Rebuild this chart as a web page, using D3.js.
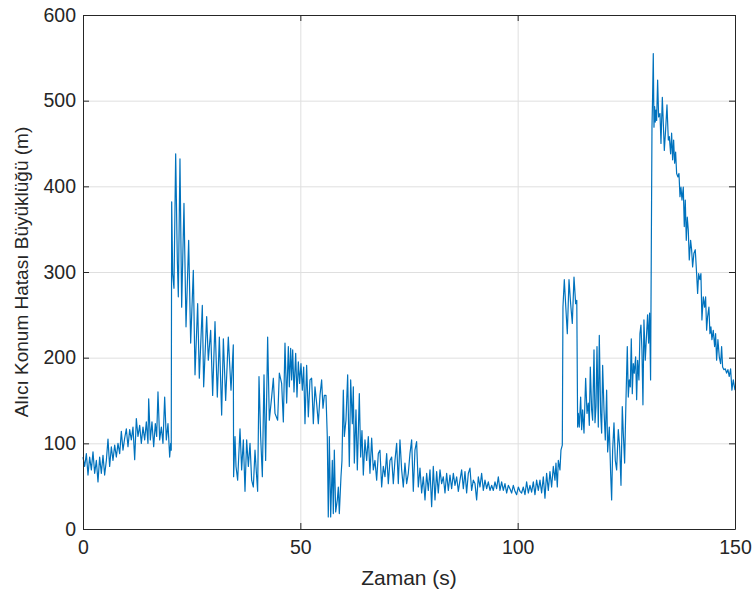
<!DOCTYPE html>
<html>
<head>
<meta charset="utf-8">
<script src="https://cdn.jsdelivr.net/npm/d3@7"></script>
<style>
  body { margin: 0; background: #fff; }
  svg { display: block; }
  .tick text { font-family: "Liberation Sans", Arial, sans-serif; font-size: 19.5px; fill: #262626; }
  .axis-title { font-family: "Liberation Sans", Arial, sans-serif; fill: #262626; }
</style>
</head>
<body>
<div id="chart"></div>
<script>
// time (s) and receiver position error magnitude (m)
const times = [
  0.00, 0.38, 0.77, 1.15, 1.53, 1.92, 2.30, 2.68, 3.07, 3.45, 3.83, 4.22, 4.60, 4.98, 5.37, 5.75, 6.13, 6.52, 6.90, 7.29,
  7.67, 8.05, 8.44, 8.82, 9.20, 9.59, 9.97, 10.35, 10.74, 11.12, 11.50, 11.89, 12.27, 12.65, 13.04, 13.42, 13.80, 14.19, 14.57, 14.95,
  15.11, 15.49, 15.87, 16.26, 16.64, 16.95, 17.25, 17.64, 18.02, 18.40, 18.79, 19.17, 19.55, 19.94, 20.17, 20.30,
  20.40, 20.63, 20.93, 21.32, 21.70, 21.93, 22.31, 22.70, 23.23, 23.70, 24.31, 24.77, 25.38, 25.77, 26.38, 26.76, 27.45, 27.76,
  28.45, 28.83, 29.37, 29.83, 30.37, 30.90, 31.37, 31.90, 32.29, 32.82, 33.43, 34.05, 34.58,
  34.65, 34.97, 35.20, 35.58, 36.12, 36.50, 36.89, 37.27, 37.65, 38.04, 38.42, 38.80, 39.19, 39.57, 39.95, 40.18, 40.49, 40.87,
  41.26, 41.64, 42.02, 42.48, 42.87, 43.40, 43.79, 44.17, 44.78, 45.17, 45.70, 46.09, 46.47, 46.85, 47.24, 47.47, 47.77, 48.00,
  48.24, 48.54, 48.93, 49.23, 49.54, 49.84, 50.15, 50.46, 50.77, 51.07, 51.45, 51.84, 52.22, 52.60, 52.99, 53.37, 53.75, 54.14,
  54.52, 54.90, 55.21, 55.52, 55.90, 56.20, 56.43,
  56.67, 56.98, 57.36, 57.59, 57.82, 58.13, 58.51, 58.74, 58.97, 59.35, 59.58, 59.89, 60.12, 60.50, 60.89, 61.27, 61.58, 61.96,
  62.19, 62.42, 62.80, 63.11, 63.57, 63.88, 64.18, 64.49, 64.87, 65.26, 65.64, 66.02, 66.41, 66.79, 67.17, 67.56, 67.94, 68.32,
  68.71, 69.09, 69.47, 69.86, 70.24, 70.62, 71.01, 71.39, 71.77, 72.16, 72.54, 72.92, 73.31, 73.69, 74.07, 74.46, 74.84, 75.22,
  75.61, 75.99, 76.37, 76.75, 77.14,
  77.53, 77.91, 78.29, 78.68, 79.06, 79.44, 79.83, 80.21, 80.59, 80.98, 81.36, 81.74, 82.13, 82.51, 82.89, 83.28, 83.66, 84.05,
  84.43, 84.81, 85.20, 85.58, 85.96, 86.35, 86.73, 87.11, 87.50, 87.88, 88.26, 88.65, 89.03, 89.41, 89.80, 90.18, 90.56, 90.95,
  91.33, 91.71, 92.10, 92.48, 92.86, 93.25, 93.63, 94.01, 94.40, 94.78, 95.16, 95.55, 95.93, 96.31, 96.70, 97.08, 97.46, 97.85,
  98.23, 98.61, 99.00, 99.38, 99.76, 100.15, 100.53,
  100.91, 101.30, 101.68, 102.06, 102.45, 102.83, 103.21, 103.60, 103.98, 104.36, 104.75, 105.13, 105.51, 105.90, 106.28, 106.66,
  107.05, 107.43, 107.81, 108.20, 108.58, 108.81, 109.12, 109.35, 109.73, 109.96, 110.27, 110.42, 110.73, 111.11, 111.42, 111.81,
  112.19, 112.57, 112.96, 113.34, 113.60, 113.80,
  113.95, 114.18, 114.49, 114.72, 114.95, 115.26, 115.64, 115.95, 116.25, 116.48, 116.71, 117.02, 117.25, 117.56, 117.79, 118.02,
  118.25, 118.55, 118.78, 119.09, 119.32, 119.55, 119.86, 120.16, 120.47, 120.70, 121.08, 121.39, 121.62, 121.85, 122.16, 122.46,
  122.77, 123.15, 123.46, 123.77, 124.07, 124.30, 124.61, 124.92, 125.22, 125.45, 125.68, 125.91, 126.14, 126.37, 126.60, 126.83,
  127.14, 127.37, 127.60, 127.90, 128.13, 128.36, 128.59, 128.82, 129.05, 129.36, 129.59, 129.89, 130.12, 130.35, 130.58,
  130.90, 131.05, 131.20, 131.36, 131.51, 131.66, 131.82, 131.97, 132.20, 132.43, 132.74, 132.97, 133.28, 133.51, 133.74, 134.04,
  134.35, 134.66, 134.89, 135.19, 135.42, 135.65, 135.88, 136.11, 136.34, 136.57, 136.88, 137.11, 137.34, 137.57, 137.80, 138.10,
  138.33, 138.56, 138.79, 139.02, 139.25, 139.48, 139.79, 140.02, 140.25, 140.55, 140.86, 141.17, 141.40, 141.63, 141.93, 142.16,
  142.39, 142.70, 143.01, 143.24, 143.47, 143.70, 144.00, 144.23, 144.46, 144.69, 145.00, 145.31, 145.54, 145.77, 146.07, 146.38,
  146.69, 146.92, 147.15, 147.45, 147.76, 148.07, 148.37, 148.68, 148.99, 149.29, 149.60, 150.00
];

const errors = [
  84, 73, 88, 63, 84, 69, 90, 65, 80, 55, 84, 65, 86, 63, 80, 105, 73, 96, 80, 98,
  84, 100, 88, 114, 92, 106, 117, 96, 116, 104, 119, 81, 129, 108, 121, 100, 119, 104, 125, 100,
  152, 104, 125, 96, 123, 108, 160, 104, 119, 100, 154, 104, 123, 84, 100, 92,
  382, 298, 281, 438, 314, 271, 432, 259, 380, 236, 337, 217, 302, 180, 263, 176, 261, 166,
  248, 197, 232, 156, 242, 154, 224, 133, 222, 150, 224, 162, 215,
  61, 108, 73, 57, 117, 69, 104, 44, 104, 73, 100, 57, 49, 92, 61, 44, 178, 108,
  61, 180, 80, 224, 127, 154, 176, 135, 127, 182, 170, 125, 217, 147, 213, 166, 211, 174,
  209, 160, 205, 154, 195, 170, 193, 162, 189, 123, 191, 131, 174, 176, 123, 166, 147, 123,
  156, 174, 141, 156, 156, 108, 14,
  108, 14, 80, 18, 92, 20, 34, 49, 18, 61, 80, 162, 108, 127, 180, 73, 174, 123,
  166, 77, 139, 69, 158, 84, 115, 63, 104, 80, 108, 65, 106, 69, 80, 57, 88, 92,
  49, 73, 61, 88, 53, 80, 84, 53, 80, 100, 53, 104, 69, 49, 77, 53, 65, 88,
  104, 44, 92, 102, 49,
  71, 42, 61, 34, 65, 45, 69, 26, 73, 34, 67, 42, 69, 53, 61, 42, 65, 45,
  63, 47, 65, 51, 61, 44, 57, 69, 47, 67, 42, 65, 71, 45, 57, 53, 34, 61,
  49, 65, 45, 57, 47, 55, 45, 51, 45, 55, 47, 61, 45, 55, 45, 53, 42, 51,
  47, 42, 51, 44, 40, 49, 44,
  42, 49, 40, 55, 42, 51, 43, 55, 40, 57, 45, 57, 42, 61, 36, 65,
  45, 67, 49, 73, 57, 77, 49, 80, 69, 92, 98, 259, 291, 256, 228, 291,
  263, 240, 294, 263, 267, 119,
  135, 119, 154, 116, 139, 112, 176, 135, 147, 121, 189, 139, 127, 209, 124, 143,
  213, 119, 226, 135, 112, 191, 139, 104, 162, 90, 119, 65, 34, 92, 124, 80,
  69, 116, 96, 51, 143, 112, 77, 151, 213, 154, 174, 166, 222, 158, 193, 182,
  201, 151, 197, 174, 228, 238, 209, 145, 244, 197, 221, 250, 217, 252, 174,
  469, 506, 555, 469, 493, 475, 489, 477, 524, 481, 485, 450, 504, 473, 442, 466,
  495, 454, 458, 438, 462, 431, 454, 427, 440, 415, 411, 415, 388, 399, 384, 399,
  353, 384, 337, 364, 349, 314, 337, 326, 306, 322, 326, 298, 275, 298, 291, 298,
  244, 271, 259, 271, 232, 248, 259, 228, 236, 221, 232, 213, 228, 197, 221, 201,
  193, 213, 189, 186, 187, 182, 186, 178, 187, 162, 174, 162
];

const xTicks = [0, 50, 100, 150];
const yTicks = [0, 100, 200, 300, 400, 500, 600];

const config = {
    containerWidth: 756,
    containerHeight: 596,
    margin: { top: 15, right: 21, bottom: 67, left: 83 }
};

const width = config.containerWidth - config.margin.left - config.margin.right;
const height = config.containerHeight - config.margin.top - config.margin.bottom;

const svg = d3.select('#chart').append('svg')
    .attr('width', config.containerWidth)
    .attr('height', config.containerHeight);

const chart = svg.append('g')
    .attr('transform', `translate(${config.margin.left},${config.margin.top})`);

const xScale = d3.scaleLinear().domain([0, 150]).range([0, width]);
const yScale = d3.scaleLinear().domain([0, 600]).range([height, 0]);

// gridlines
chart.append('g')
    .attr('class', 'grid')
    .attr('transform', `translate(0,${height})`)
    .call(d3.axisBottom(xScale).tickValues(xTicks).tickSize(-height).tickFormat(''))
    .call(g => g.select('.domain').remove())
    .call(g => g.selectAll('line').attr('stroke', '#dfdfdf'));

chart.append('g')
    .attr('class', 'grid')
    .call(d3.axisLeft(yScale).tickValues(yTicks).tickSize(-width).tickFormat(''))
    .call(g => g.select('.domain').remove())
    .call(g => g.selectAll('line').attr('stroke', '#dfdfdf'));

// data line
const data = times.map((t, i) => ({ t: t, v: errors[i] }));

chart.append('path')
    .datum(data)
    .attr('fill', 'none')
    .attr('stroke', '#0072BD')
    .attr('stroke-width', 1.2)
    .attr('stroke-linejoin', 'round')
    .attr('d', d3.line().x(d => xScale(d.t)).y(d => yScale(d.v)));

// axes with inward ticks, box on
const tickLen = 6;
const axisColor = '#262626';

const frame = chart.append('g').attr('class', 'frame');

frame.append('g')
    .attr('transform', `translate(0,${height})`)
    .call(d3.axisBottom(xScale).tickValues(xTicks).tickSizeInner(-tickLen).tickSizeOuter(0).tickPadding(11));

frame.append('g')
    .call(d3.axisLeft(yScale).tickValues(yTicks).tickSizeInner(-tickLen).tickSizeOuter(0).tickPadding(7));

frame.append('g')
    .call(d3.axisTop(xScale).tickValues(xTicks).tickSizeInner(-tickLen).tickSizeOuter(0).tickFormat(''));

frame.append('g')
    .attr('transform', `translate(${width},0)`)
    .call(d3.axisRight(yScale).tickValues(yTicks).tickSizeInner(-tickLen).tickSizeOuter(0).tickFormat(''));

frame.selectAll('.domain').attr('stroke', axisColor);
frame.selectAll('.tick line').attr('stroke', axisColor);

// axis titles
svg.append('text')
    .attr('class', 'axis-title')
    .attr('x', config.margin.left + width / 2)
    .attr('y', 585)
    .attr('text-anchor', 'middle')
    .style('font-size', '21px')
    .text('Zaman (s)');

svg.append('text')
    .attr('class', 'axis-title')
    .attr('transform', `translate(28,${config.margin.top + height / 2}) rotate(-90)`)
    .attr('text-anchor', 'middle')
    .style('font-size', '19px')
    .text('Alıcı Konum Hatası Büyüklüğü (m)');
</script>
</body>
</html>
